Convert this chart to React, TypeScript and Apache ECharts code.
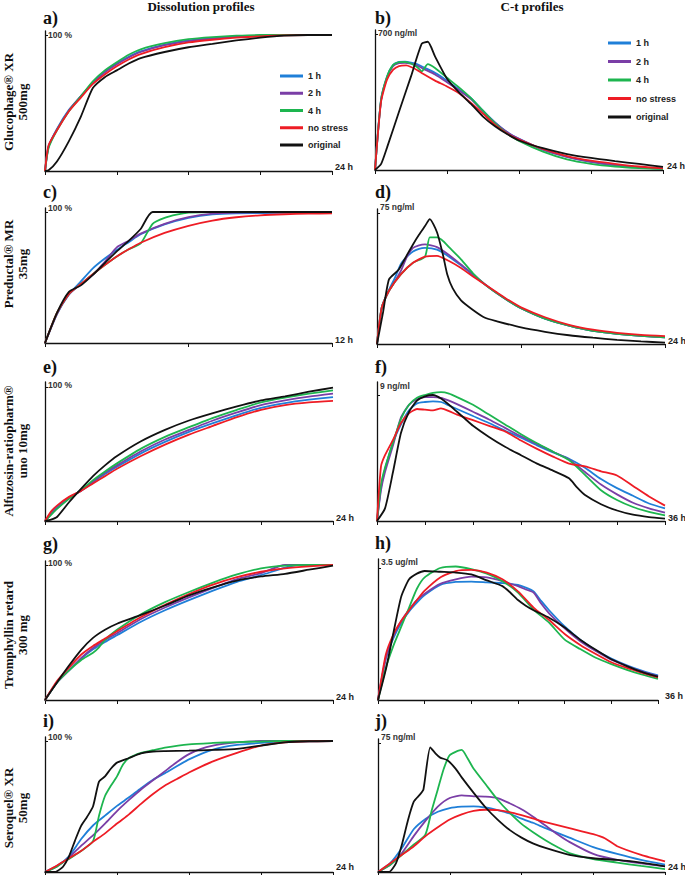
import React, { useEffect, useRef } from 'react';
import * as echarts from 'echarts';

type P = [number, number][];

const seriesNames = ['1 h', '2 h', '4 h', 'no stress', 'original'];
const seriesColors = ['#1f7fd8', '#7a3ea6', '#1db54f', '#ee1c25', '#111111'];

// a) Glucophage XR dissolution (%)
const aBlue: P = [[0,0],[0.3,18],[1,31],[2,45],[3,55],[4,65],[5,73],[6,79],[7,84],[8,88],[10,93],[12,96],[14,97.5],[16,98.8],[18,99.5],[20,100],[24,100]];
const aPurple: P = [[0,0],[0.3,18],[1,30.5],[2,44.5],[3,55],[4,64.5],[5,72.5],[6,78.5],[7,83.5],[8,87.5],[10,92.5],[12,95.5],[14,97.5],[16,98.8],[18,99.5],[20,100],[24,100]];
const aGreen: P = [[0,0],[0.3,17],[1,30],[2,44],[3,55],[4,66],[5,74],[6,80],[7,85.5],[8,89.5],[10,94],[12,97],[14,98.5],[16,99.5],[18,100],[24,100]];
const aRed: P = [[0,0],[0.3,19],[1,30],[2,44],[3,54],[4,64],[5,71],[6,77],[7,82],[8,86],[10,91],[12,94.5],[14,96.5],[16,98],[18,99],[20,99.7],[24,100]];
const aBlack: P = [[0,0],[0.3,0.5],[1,7],[2,22],[3,40],[4,61],[5,69],[6,74],[7,79],[8,83],[10,87.5],[12,91],[14,93.5],[16,96],[18,98],[20,99.5],[22,100],[24,100]];

// b) Glucophage XR C-t (ng/ml)
const bBlue: P = [[0,0],[0.5,360],[1,480],[1.5,540],[2,556],[2.5,558],[3,553],[3.5,545],[4,530],[5,500],[6,460],[7,415],[8,370],[9,305],[10,245],[11,195],[12,160],[14,105],[16,68],[18,42],[20,25],[22,14],[24,7]];
const bPurple: P = [[0,0],[0.5,355],[1,475],[1.5,535],[2,550],[2.5,552],[3,547],[3.5,538],[4,522],[5,492],[6,452],[7,410],[8,365],[9,302],[10,243],[11,195],[12,160],[14,105],[16,68],[18,42],[20,25],[22,14],[24,7]];
const bGreen: P = [[0,0],[0.5,360],[1,480],[1.5,540],[2,555],[2.5,556],[3,548],[3.5,530],[3.9,508],[4.4,545],[5,525],[6,475],[7,425],[8,370],[9,305],[10,240],[11,188],[12,150],[14,95],[16,55],[18,32],[20,18],[22,10],[24,5]];
const bRed: P = [[0,0],[0.5,350],[1,465],[1.5,515],[2,535],[2.6,538],[3,530],[3.5,515],[4,495],[5,460],[6,430],[7,395],[8,345],[9,290],[10,232],[11,188],[12,156],[14,108],[16,72],[18,48],[20,32],[22,18],[24,8]];
const bBlack: P = [[0,0],[0.5,30],[1,115],[2,300],[3,482],[3.9,650],[4.4,660],[5,585],[6,470],[7,400],[8,340],[9,275],[10,225],[11,185],[12,152],[14,112],[16,82],[18,62],[20,46],[22,31],[24,16]];

// c) Preductal MR dissolution (%)
const cBlue: P = [[0,0],[0.5,22],[1,37],[1.5,47],[2,57],[2.5,64.5],[3,71],[3.5,77],[4,83],[5,90.5],[6,95.5],[7,98.2],[8,99],[10,99.4],[12,99.5]];
const cPurple: P = [[0,0],[0.5,22],[1,37],[1.5,45],[2,52],[2.5,62],[3,73],[3.5,78],[4,83.5],[5,91],[6,96],[7,98.7],[8,99.6],[12,100]];
const cGreen: P = [[0,0],[0.5,23],[1,37.5],[1.5,45],[2,52.5],[2.5,59.5],[3,66],[3.5,71.5],[4,76],[4.5,91],[5,95.5],[5.5,98],[6,99.5],[7,100],[12,100]];
const cRed: P = [[0,0],[0.5,23],[1,37.5],[1.5,45],[2,52.5],[2.5,59.5],[3,66],[3.5,71.5],[4,76.5],[5,84],[6,89.5],[7,93.5],[8,96],[9,97.5],[10,98.3],[11,98.7],[12,99]];
const cBlack: P = [[0,0],[0.5,23],[1,39],[1.5,44],[2,52],[2.5,61],[3,70],[3.5,78],[4,87],[4.5,100],[12,100]];

// d) Preductal MR C-t (ng/ml)
const dBlue: P = [[0,0],[0.4,21],[1,31],[1.5,38],[2,46],[2.5,50],[3,53],[3.5,54.5],[4,55],[5,54],[6,50],[7,45],[8,39.5],[9,34],[10,29],[11,24.5],[12,20.5],[14,14.5],[16,10.5],[18,7.5],[20,5.8],[22,4.6],[24,3.8]];
const dPurple: P = [[0,0],[0.4,21],[1,30.5],[1.5,36],[2,42],[2.5,50],[3,55],[3.5,56.5],[4,57],[5,55.5],[6,51],[7,45.5],[8,40],[9,34.2],[10,29],[11,24.5],[12,20.5],[14,14.5],[16,10.5],[18,7.5],[20,5.8],[22,4.6],[24,3.8]];
const dGreen: P = [[0,0],[0.4,21],[1,30.5],[2,40],[3,46.5],[4,50],[4.4,61],[5,61],[5.5,59],[6,55.5],[7,48.5],[8,40.5],[9,34],[10,29],[11,24.5],[12,20.5],[14,14.5],[16,10.5],[18,7.5],[20,5.8],[22,4.6],[24,3.8]];
const dRed: P = [[0,0],[0.4,21],[1,30.5],[2,40],[3,46.5],[4,50],[5,50.5],[6,47.5],[7,43.5],[8,38.6],[9,34],[10,29.5],[11,25],[12,21],[14,15.3],[16,11],[18,8.2],[20,6.4],[22,5.2],[24,4.5]];
const dBlack: P = [[0,0],[0.5,18],[1,37],[1.8,42.5],[2.5,51],[3,57],[3.5,62.5],[4,67.5],[4.4,71.5],[5,64],[5.5,51],[5.85,40],[6.3,32],[7,25],[8,19.5],[9,15],[10,13],[12,9.5],[14,7],[16,5],[18,3.6],[20,2.4],[22,1.5],[24,0.8]];

// e) Alfuzosin dissolution (%)
const eBlue: P = [[0,0],[0.5,6],[1,10.5],[2,17.5],[3,22.5],[4,29],[5,35],[6,40.5],[8,50.5],[10,59],[12,66.5],[14,73],[16,79],[18,84.5],[20,88],[22,90.5],[24,92.5]];
const ePurple: P = [[0,0],[0.5,5],[1,9.5],[2,17],[3,22.5],[4,29.5],[5,36],[6,41.5],[8,52],[10,60.8],[12,68],[14,75],[16,81],[18,86.5],[20,90],[22,92.8],[24,95]];
const eGreen: P = [[0,0],[0.5,4.5],[1,9],[2,16.5],[3,23],[4,30.5],[5,37],[6,43],[8,54],[10,62.8],[12,70],[14,77],[16,83],[18,88.5],[20,92],[22,95],[24,97.5]];
const eRed: P = [[0,0],[0.5,7],[1,11.5],[2,18],[3,22.5],[4,28],[5,33.5],[6,39],[8,48.5],[10,57],[12,64.5],[14,71],[16,77.5],[18,83],[20,86.5],[22,88.5],[24,89.6]];
const eBlack: P = [[0,0],[0.5,1],[1,3],[2,14],[3,24],[4,33.5],[5,41.5],[6,48.5],[8,59.5],[10,68],[12,75],[14,80.5],[16,85.5],[18,90],[20,93],[22,96.5],[24,99.5]];

// f) Alfuzosin C-t (ng/ml)
const fBlue: P = [[0,0],[0.5,2.4],[1,3.7],[2,5.6],[3,6.9],[4,7.9],[5,8.4],[6,8.5],[7,8.55],[8,8.5],[9,8.25],[10,8],[12,7.5],[14,7],[16,6.45],[18,5.95],[20,5.4],[22,4.9],[24,4.45],[26,3.8],[28,3],[30,2.35],[32,1.8],[34,1.25],[36,0.9]];
const fPurple: P = [[0,0],[0.5,2.2],[1,3.5],[2,5.4],[3,7.4],[4,8.3],[5,8.7],[6,8.85],[7,8.85],[8,8.8],[9,8.6],[10,8.35],[12,7.8],[14,7.25],[16,6.65],[18,6.05],[20,5.5],[22,4.95],[24,4.4],[26,3.5],[28,2.6],[30,1.9],[32,1.3],[34,0.9],[36,0.6]];
const fGreen: P = [[0,0],[0.5,2.6],[1,3.8],[2,5.6],[3,7.3],[4,8.3],[5,8.8],[6,9],[7,9.15],[8,9.2],[9,9.1],[10,8.85],[12,8.3],[14,7.6],[16,6.9],[18,6.2],[20,5.55],[22,4.95],[24,4.35],[26,3.3],[28,2.2],[30,1.5],[32,1],[34,0.65],[36,0.4]];
const fRed: P = [[0,0],[0.5,3.9],[1,4.7],[2,5.8],[3,7],[4,7.7],[5,8],[6,7.95],[7,7.9],[8,8.05],[9,7.85],[10,7.6],[12,7.2],[14,6.8],[16,6.4],[18,5.75],[20,5.15],[22,4.6],[24,4.1],[26,3.9],[28,3.55],[30,3.25],[32,2.5],[34,1.75],[36,1.1]];
const fBlack: P = [[0,0],[1,0.9],[2,3.5],[3,6.3],[4,7.8],[5,8.6],[6,8.9],[7,9],[8,8.75],[9,8.3],[10,7.8],[11,7.3],[12,6.8],[14,6],[16,5.3],[18,4.7],[20,4.1],[22,3.6],[24,3.05],[25,2.4],[26,1.85],[28,1.2],[30,0.75],[32,0.45],[34,0.28],[36,0.17]];

// g) Tromphyllin retard dissolution (%)
const gBlue: P = [[0,0],[1,13],[2,22],[3,30.5],[4,37.5],[5,43],[6,48],[8,58],[10,66.5],[12,74],[14,81],[16,87.5],[18,92.5],[20,98],[21,100],[24,100]];
const gPurple: P = [[0,0],[1,13],[2,22],[3,31],[4,38.5],[5,44.5],[6,49.5],[8,60],[10,68.5],[12,76],[14,83],[16,89.5],[18,94],[20,100],[24,100]];
const gGreen: P = [[0,0],[1,13],[2,22],[3,29.5],[4,35],[4.5,39],[5,44.5],[6,52],[8,63.5],[10,72.5],[12,80],[14,87],[16,93],[18,97.5],[20,99.5],[22,100],[24,100]];
const gRed: P = [[0,0],[1,14],[2,24],[3,33.5],[4,40],[5,45.5],[6,51],[8,61.5],[10,70.5],[12,78.5],[14,85.5],[16,91],[18,95],[20,97.5],[22,99],[24,100]];
const gBlack: P = [[0,0],[1,13],[2,25.5],[3,37],[4,46],[5,52],[6,56.5],[8,63],[10,70],[12,77.5],[14,83.5],[16,88.5],[18,91.5],[20,93.5],[22,96.5],[24,99.5]];

// h) Tromphyllin retard C-t (ug/ml)
const hBlue: P = [[0,0],[1,1.1],[2,1.65],[3,2.05],[4,2.35],[5,2.58],[6,2.78],[8,3.05],[10,3.13],[12,3.14],[14,3.12],[16,3.1],[18,3.05],[19,2.98],[20,2.88],[21,2.62],[22,2.38],[24,1.95],[26,1.6],[28,1.32],[30,1.1],[32,0.92],[34,0.77],[36,0.65]];
const hPurple: P = [[0,0],[1,1.1],[2,1.7],[3,2.1],[4,2.4],[5,2.65],[6,2.82],[8,3.08],[10,3.2],[12,3.27],[14,3.25],[16,3.15],[18,3.02],[19,2.93],[20,2.85],[21,2.55],[22,2.3],[24,1.9],[26,1.56],[28,1.3],[30,1.07],[32,0.9],[34,0.75],[36,0.63]];
const hGreen: P = [[0,0],[1,0.85],[2,1.45],[3,1.95],[4,2.45],[5,2.95],[6,3.25],[8,3.5],[10,3.54],[12,3.47],[14,3.35],[16,3.15],[18,2.85],[20,2.4],[22,2.05],[24,1.6],[26,1.35],[28,1.12],[30,0.95],[32,0.8],[34,0.67],[36,0.56]];
const hRed: P = [[0,0],[1,1.2],[2,1.75],[3,2.1],[4,2.38],[5,2.65],[6,2.9],[8,3.25],[10,3.42],[12,3.45],[14,3.38],[16,3.2],[18,2.88],[20,2.45],[22,2.12],[24,1.75],[26,1.46],[28,1.22],[30,1],[32,0.85],[34,0.72],[36,0.6]];
const hBlack: P = [[0,0],[1,0.8],[2,1.8],[3,2.75],[4,3.2],[5,3.35],[6,3.42],[8,3.4],[10,3.38],[12,3.33],[14,3.17],[16,3.02],[17,2.85],[18,2.65],[19,2.5],[20,2.38],[22,2.18],[24,1.92],[26,1.6],[28,1.33],[30,1.08],[32,0.9],[34,0.74],[36,0.62]];

// i) Seroquel XR dissolution (%)
const iBlue: P = [[0,0],[1,4.5],[2,12],[3,25],[4,35.5],[5,43],[6,50.5],[7,57],[8,64],[9,70.5],[10,75.5],[12,86],[14,93.5],[16,97],[18,98.5],[20,99.5],[24,100]];
const iPurple: P = [[0,0],[1,4.5],[2,11],[3,20],[4,28],[5,37],[6,46.5],[7,55],[8,63],[9,70],[10,77],[11,84],[12,90],[13,94],[14,96.5],[15,98],[16,99],[18,100],[24,100]];
const iGreen: P = [[0,0],[1,4],[1.5,7.5],[2,10],[3,16],[4,23.5],[4.5,43],[5,58],[5.5,66],[6,73],[6.5,82],[7,87],[8,91],[9,93],[10,95],[12,97.5],[14,98.5],[16,99.2],[18,99.6],[20,100],[24,100]];
const iRed: P = [[0,0],[1,5],[2,10.5],[3,16],[4,23],[5,29.5],[6,37],[7,44],[8,52],[9,59.5],[10,66],[11,71],[12,76],[14,84.5],[16,91],[18,96.5],[20,99],[22,99.8],[24,100]];
const iBlack: P = [[0,0],[0.8,0],[1,0.5],[1.5,4],[2,12],[2.5,24],[3,35],[3.5,42],[4,50],[4.5,69],[5,73],[5.5,79],[6,83.5],[7,87],[8,90.5],[9,92],[10,92.3],[12,92.6],[14,93.2],[16,94],[18,96.5],[20,99],[22,99.8],[24,100]];

// j) Seroquel XR C-t (ng/ml)
const jBlue: P = [[0,0],[1,5],[2,14],[3,25],[4,31],[5,35],[6,37.2],[7,38],[8,38.2],[9,37.5],[10,36],[11,34],[12,31],[13,28.5],[14,25.5],[16,20],[18,14.5],[20,10.5],[22,7],[24,4.3]];
const jPurple: P = [[0,0],[1,4],[2,11],[3,21],[4,30],[5,38],[6,43],[7,44.5],[8,44],[9,43.8],[10,43],[11,40],[12,36.5],[13,32],[14,27],[15,22],[16,17.5],[18,10.5],[20,7],[22,5],[24,3.3]];
const jGreen: P = [[0,0],[1,4],[2,10],[3,16],[3.95,21.5],[4.5,36],[5,48],[5.5,60],[6,68],[7,71],[7.5,66],[8,60],[9,51],[10,42],[11,34.5],[12,28],[13,23],[14,18.5],[15,14.5],[16,11],[18,7.5],[20,5.5],[22,3.5],[24,1.7]];
const jRed: P = [[0,0],[1,5],[2,10],[3,15],[4,21],[5,26],[6,30.5],[7,33.5],[8,35.5],[9,36.2],[10,36],[11,34.8],[12,33],[13,31],[14,29],[16,25.5],[18,22],[19,19.5],[20,15],[22,10],[24,6.2]];
const jBlack: P = [[0,0],[0.9,0],[1.5,5],[2,16],[2.5,30],[3,41],[3.5,45],[3.8,48],[4.37,72.5],[4.8,69],[5.2,66.5],[5.8,65],[6.5,60],[7,55],[8,46],[9,37.5],[10,30.5],[11,24.5],[12,20],[13,16.5],[14,14],[16,10],[18,8],[20,7],[22,5.5],[24,3.3]];

const yTopValues = [100, 700, 100, 75, 100, 9, 100, 3.5, 100, 75];
const yTopLabels = ['100 %', '700 ng/ml', '100 %', '75 ng/ml', '100 %', '9 ng/ml', '100 %', '3.5 ug/ml', '100 %', '75 ng/ml'];
const xMaxValues = [24, 24, 12, 24, 24, 36, 24, 36, 24, 24];
const xNames = ['24 h', '24 h', '12 h', '24 h', '24 h', '36 h', '24 h', '36 h', '24 h', '24 h'];
const panelLetters = ['a)', 'b)', 'c)', 'd)', 'e)', 'f)', 'g)', 'h)', 'i)', 'j)'];
const rowLabels = ['Glucophage® XR\n500mg', 'Preductal® MR\n35mg', 'Alfuzosin-ratiopharm®\nuno 10mg', 'Tromphyllin retard\n300 mg', 'Seroquel® XR\n50mg'];
const columnTitles = ['Dissolution profiles', 'C-t profiles'];

const panelData: P[][] = [
  [aBlue, aPurple, aGreen, aRed, aBlack],
  [bBlue, bPurple, bGreen, bRed, bBlack],
  [cBlue, cPurple, cGreen, cRed, cBlack],
  [dBlue, dPurple, dGreen, dRed, dBlack],
  [eBlue, ePurple, eGreen, eRed, eBlack],
  [fBlue, fPurple, fGreen, fRed, fBlack],
  [gBlue, gPurple, gGreen, gRed, gBlack],
  [hBlue, hPurple, hGreen, hRed, hBlack],
  [iBlue, iPurple, iGreen, iRed, iBlack],
  [jBlue, jPurple, jGreen, jRed, jBlack],
];

// layout (pixels)
const layout = [
  { left: 45, width: 287, axisTop: 31, tickY: 35, base: 171, nameGap: 3, letterY: 18, labelUp: 0, nameUp: 4 },
  { left: 375, width: 288, axisTop: 30, tickY: 34, base: 170, nameGap: 4, letterY: 18, labelUp: 1, nameUp: 4 },
  { left: 45, width: 287, axisTop: 208, tickY: 212, base: 343, nameGap: 3, letterY: 192, labelUp: 4, nameUp: 3 },
  { left: 377, width: 288, axisTop: 209, tickY: 213, base: 344, nameGap: 3, letterY: 192, labelUp: 6, nameUp: 3 },
  { left: 45, width: 288, axisTop: 382, tickY: 387, base: 521, nameGap: 3, letterY: 367, labelUp: 2, nameUp: 3 },
  { left: 377, width: 288, axisTop: 382, tickY: 395, base: 521, nameGap: 3, letterY: 367, labelUp: 9, nameUp: 3 },
  { left: 45, width: 288, axisTop: 561, tickY: 565, base: 700, nameGap: 3, letterY: 544, labelUp: 2, nameUp: 3 },
  { left: 378, width: 280, axisTop: 559, tickY: 568, base: 700, nameGap: 7, letterY: 543, labelUp: 6, nameUp: 4 },
  { left: 45, width: 288, axisTop: 737, tickY: 741, base: 872, nameGap: 3, letterY: 721, labelUp: 4, nameUp: 5 },
  { left: 378, width: 287, axisTop: 739, tickY: 743, base: 872, nameGap: 3, letterY: 721, labelUp: 6, nameUp: 5 },
];
const rowCenters = [102, 264, 451, 635, 808];

const SANS = '"Liberation Sans", Arial, Helvetica, sans-serif';
const SERIF = '"Liberation Serif", "Times New Roman", serif';

function buildOption() {
  const grid: any[] = [];
  const xAxis: any[] = [];
  const yAxis: any[] = [];
  const series: any[] = [];
  layout.forEach((L, i) => {
    grid.push({ left: L.left, top: L.axisTop, width: L.width, height: L.base - L.axisTop, outerBoundsMode: 'none', containLabel: false });
    const top = yTopValues[i];
    const yMax = top * (L.base - L.axisTop) / (L.base - L.tickY);
    xAxis.push({
      gridIndex: i, type: 'value', min: 0, max: xMaxValues[i], interval: 6,
      axisLine: { show: true, lineStyle: { color: '#111', width: 1.3 } },
      axisTick: { show: true, inside: false, length: 4, lineStyle: { color: '#111', width: 1 } },
      axisLabel: { show: false }, splitLine: { show: false },
      name: xNames[i], nameLocation: 'end', nameGap: L.nameGap,
      nameTextStyle: { fontFamily: SANS, fontSize: 9, fontWeight: 'bold', color: '#222', align: 'left', verticalAlign: 'bottom', lineHeight: L.nameUp * 2 },
    });
    const labelStyle: any = L.labelUp > 0
      ? { verticalAlign: 'bottom', lineHeight: L.labelUp * 2 }
      : { verticalAlign: 'middle' };
    yAxis.push({
      gridIndex: i, type: 'value', min: 0, max: yMax, interval: top,
      axisLine: { show: true, lineStyle: { color: '#111', width: 1.3 } },
      axisTick: { show: true, inside: true, length: 3, customValues: [top], lineStyle: { color: '#111', width: 1 } },
      axisLabel: {
        show: true, inside: true, margin: 3, customValues: [top],
        formatter: (v: number) => (Math.abs(v - top) < 1e-9 ? yTopLabels[i] : ''),
        fontFamily: SANS, fontSize: 8.5, fontWeight: 'bold', color: '#333',
        ...labelStyle,
      },
      splitLine: { show: false },
    });
    panelData[i].forEach((d, k) => {
      series.push({
        type: 'line', name: seriesNames[k], xAxisIndex: i, yAxisIndex: i, data: d,
        showSymbol: false, symbol: 'none', smooth: 0.2, color: seriesColors[k],
        lineStyle: { color: seriesColors[k], width: 1.8 }, emphasis: { disabled: true }, silent: true,
      });
    });
  });

  const graphic: any[] = [];
  graphic.push({ type: 'text', x: 201, y: 6, style: { text: columnTitles[0], font: `bold 13px ${SERIF}`, fill: '#111', align: 'center', verticalAlign: 'middle' } });
  graphic.push({ type: 'text', x: 532, y: 6, style: { text: columnTitles[1], font: `bold 13px ${SERIF}`, fill: '#111', align: 'center', verticalAlign: 'middle' } });
  layout.forEach((L, i) => {
    graphic.push({ type: 'text', x: i % 2 === 0 ? 43 : 375, y: L.letterY, style: { text: panelLetters[i], font: `bold 18px ${SERIF}`, fill: '#111', align: 'left', verticalAlign: 'middle' } });
  });
  rowLabels.forEach((t, r) => {
    graphic.push({ type: 'text', x: 15, y: rowCenters[r], rotation: Math.PI / 2, style: { text: t, font: `bold 13px ${SERIF}`, lineHeight: 14, fill: '#111', align: 'center', verticalAlign: 'middle' } });
  });

  const legendBase = {
    data: seriesNames, orient: 'vertical', itemWidth: 23, itemHeight: 3, icon: 'rect', selectedMode: false, padding: 0,
    textStyle: { fontFamily: SANS, fontSize: 9, fontWeight: 'bold', color: '#222', lineHeight: 10 },
  };
  const legend = [
    { ...legendBase, left: 280, top: 71, itemGap: 7.25 },
    { ...legendBase, left: 608, top: 38, itemGap: 8.5 },
  ];

  return { animation: false, backgroundColor: '#fff', grid, xAxis, yAxis, series, graphic, legend };
}

export default function App() {
  const ref = useRef<HTMLDivElement>(null);
  useEffect(() => {
    if (!ref.current) return;
    const chart = echarts.init(ref.current, undefined, { renderer: 'svg' });
    chart.setOption(buildOption() as any);
    return () => chart.dispose();
  }, []);
  return <div ref={ref} style={{ position: 'absolute', left: 0, top: 0, width: 685, height: 875, background: '#fff' }} />;
}
